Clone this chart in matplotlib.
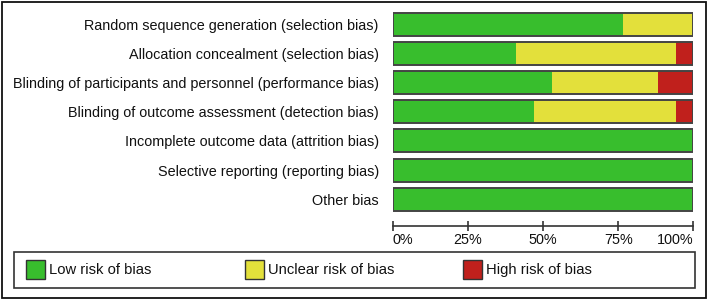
import matplotlib.pyplot as plt
from matplotlib.patches import Rectangle
import numpy as np

plt.rcParams['font.family'] = ['Liberation Sans', 'DejaVu Sans']

# 数据：17 项研究的偏倚风险判断
categories = ['Random sequence generation (selection bias)',
              'Allocation concealment (selection bias)',
              'Blinding of participants and personnel (performance bias)',
              'Blinding of outcome assessment (detection bias)',
              'Incomplete outcome data (attrition bias)',
              'Selective reporting (reporting bias)',
              'Other bias']
low = np.array([13, 7, 9, 8, 17, 17, 17])
unclear = np.array([4, 9, 6, 8, 0, 0, 0])
high = np.array([0, 1, 2, 1, 0, 0, 0])
n_studies = 17
tick_vals = [0, 25, 50, 75, 100]
tick_labels = ['0%', '25%', '50%', '75%', '100%']
legend_labels = ['Low risk of bias', 'Unclear risk of bias', 'High risk of bias']

c_low = '#38BE2D'
c_unclear = '#E3E03B'
c_high = '#C0201C'

W, H = 708, 301
fig = plt.figure(figsize=(W / 100, H / 100), dpi=100)


def fx(px):
    return px / W


def fy(py):
    return 1 - py / H


# 坐标轴区域（像素换算）
x0, x1 = 392.7, 693.3
top, bottom = 7.0, 226.0
ax = fig.add_axes([fx(x0), fy(bottom), fx(x1) - fx(x0), (bottom - top) / H])

y = np.arange(len(categories))
p_low = low / n_studies * 100
p_unc = unclear / n_studies * 100
p_high = high / n_studies * 100
h = 0.79
ax.barh(y, p_low, height=h, color=c_low, linewidth=0)
ax.barh(y, p_unc, left=p_low, height=h, color=c_unclear, linewidth=0)
ax.barh(y, p_high, left=p_low + p_unc, height=h, color=c_high, linewidth=0)
ax.barh(y, p_low + p_unc + p_high, height=h, facecolor='none',
        edgecolor='#444444', linewidth=1.4)

ax.set_xlim(0, 100)
ax.set_ylim(6.92, -0.6)
ax.set_yticks(y)
ax.set_yticklabels(categories, fontsize=10.4, color='#111111')
ax.tick_params(axis='y', length=0, pad=10)
ax.set_xticks(tick_vals)
ax.set_xticklabels(tick_labels, fontsize=10.4, color='#111111')
ax.tick_params(axis='x', direction='inout', length=7.5, width=1.2,
               color='#333333', pad=1.5)
labels = ax.get_xticklabels()
labels[0].set_ha('left')
labels[-1].set_ha('right')
for s in ['top', 'right', 'left']:
    ax.spines[s].set_visible(False)
ax.spines['bottom'].set_color('#333333')
ax.spines['bottom'].set_linewidth(1.2)

# 外框
fig.add_artist(Rectangle((fx(2), fy(298)), fx(706) - fx(2),
                         fy(1.5) - fy(298), transform=fig.transFigure,
                         facecolor='none', edgecolor='#111111', linewidth=1.3))

# 图例框
fig.add_artist(Rectangle((fx(14), fy(287.5)), fx(695) - fx(14),
                         fy(252) - fy(287.5), transform=fig.transFigure,
                         facecolor='none', edgecolor='#333333', linewidth=1.2))
patch_x = [26, 245, 463]
for px, col, lab in zip(patch_x, [c_low, c_unclear, c_high], legend_labels):
    fig.add_artist(Rectangle((fx(px), fy(279)), fx(18.5), 19 / H,
                             transform=fig.transFigure, facecolor=col,
                             edgecolor='#333333', linewidth=1.0))
    fig.text(fx(px + 23), fy(270), lab, fontsize=10.6, va='center',
             ha='left', color='#111111')

fig.savefig('out.png', dpi=100)
